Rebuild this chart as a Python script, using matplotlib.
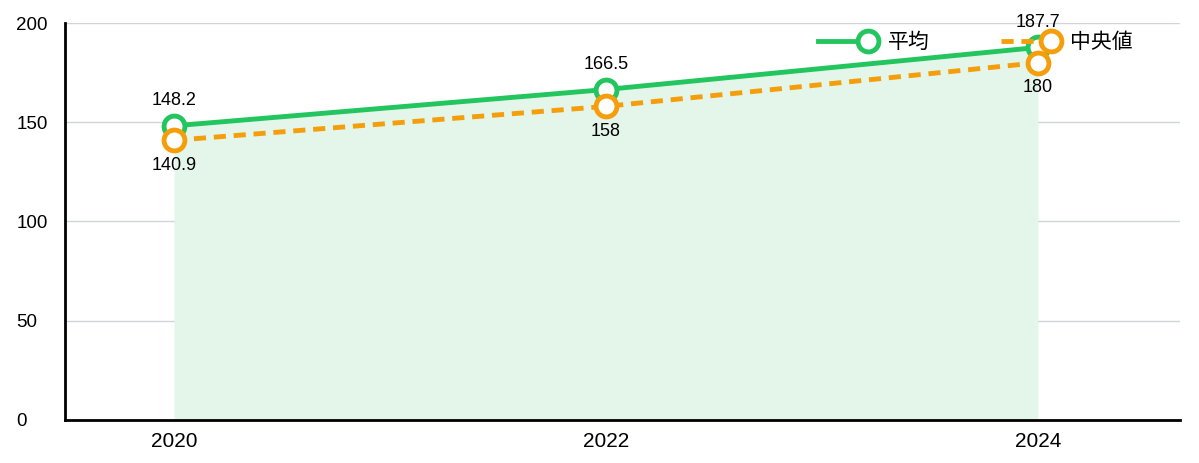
import matplotlib.pyplot as plt
import numpy as np
from matplotlib.legend_handler import HandlerLine2DCompound

plt.rcParams['font.family'] = ['Liberation Sans', 'Noto Sans CJK JP', 'DejaVu Sans']

years = [2020, 2022, 2024]
mean_vals = [148.2, 166.5, 187.7]
median_vals = [140.9, 158, 180]
mean_labels = ['148.2', '166.5', '187.7']
median_labels = ['140.9', '158', '180']
yticks = [0, 50, 100, 150, 200]

green = '#22c55e'
orange = '#f59e0b'


class EndMarker(HandlerLine2DCompound):
    # legend marker sits at the right end of the line
    def get_xdata(self, legend, xdescent, ydescent, width, height, fontsize):
        xdata = np.array([-xdescent, -xdescent + width])
        return xdata, np.array([-xdescent + width])


fig = plt.figure(figsize=(11.99, 4.63), dpi=100)
ax = fig.add_axes([0.0542, 0.0929, 0.9298, 0.8574])

ax.fill_between(years, mean_vals, 0, color='#e3f6e9', zorder=1, linewidth=0)
ax.plot(years, mean_vals, color=green, lw=3.5, marker='o', ms=15,
        mfc='white', mec=green, mew=3.5, label='平均', zorder=3)
ax.plot(years, median_vals, color=orange, lw=3.5, ls=(0, (2.5, 1.6)), marker='o', ms=15,
        mfc='white', mec=orange, mew=3.5, label='中央値', zorder=4)

for x, y, t in zip(years, mean_vals, mean_labels):
    ax.annotate(t, (x, y), xytext=(0, 12), textcoords='offset points',
                ha='center', va='bottom', fontsize=13, zorder=5)
for x, y, t in zip(years, median_vals, median_labels):
    ax.annotate(t, (x, y), xytext=(0, -12), textcoords='offset points',
                ha='center', va='top', fontsize=13, zorder=5)

ax.set_xlim(2019.495, 2024.657)
ax.set_ylim(0, 200)
ax.set_xticks(years)
ax.set_xticklabels([str(y) for y in years], fontsize=15)
ax.set_yticks(yticks)
ax.set_yticklabels([str(v) for v in yticks], fontsize=13.5)
for lab in ax.get_yticklabels():
    lab.set_horizontalalignment('left')
ax.tick_params(axis='y', length=0, pad=35)
ax.tick_params(axis='x', length=0, pad=9)

ax.grid(axis='y', color='#d1d5db', lw=1)
ax.set_axisbelow(True)
for s in ['top', 'right']:
    ax.spines[s].set_visible(False)
for s in ['left', 'bottom']:
    ax.spines[s].set_linewidth(2)
    ax.spines[s].set_color('black')

leg = ax.legend(loc='center right', bbox_to_anchor=(0.958, 0.952), ncol=2, frameon=False,
                fontsize=15, handlelength=2.4, handletextpad=0.95, columnspacing=3.4,
                borderpad=0, borderaxespad=0,
                handler_map={plt.Line2D: EndMarker()})
leg.set_zorder(6)
for h in leg.legend_handles:
    h.set_markersize(10)
    h.set_markeredgewidth(3)

fig.savefig('out.png', dpi=100)
